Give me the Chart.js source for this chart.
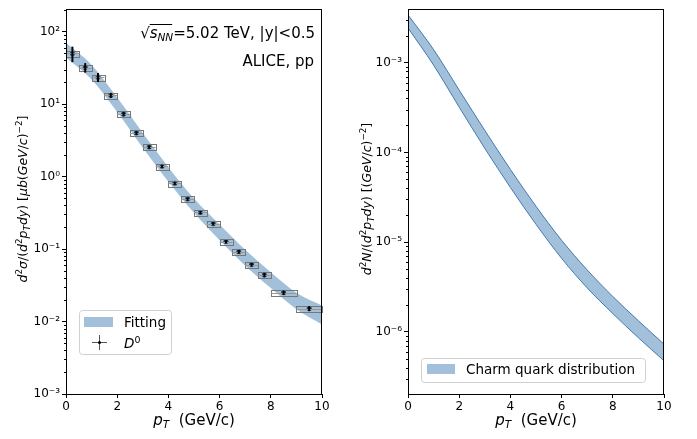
<!DOCTYPE html>
<html lang="en">
<head>
<meta charset="UTF-8">
<title>D0 and charm quark spectra</title>
<script src="https://cdn.jsdelivr.net/npm/chart.js"></script>
<style>
  body { margin: 0; background: #fff; }
  #wrap { position: relative; width: 697px; height: 439px; }
  canvas { position: absolute; top: 0; }
</style>
</head>
<body>
<div id="wrap">
  <canvas id="leftChart" width="340" height="439" style="left:0"></canvas>
  <canvas id="rightChart" width="357" height="439" style="left:340px"></canvas>
</div>
<script>
const bandPt = [0, 1, 2, 3, 4, 5, 6, 7, 8, 9, 10];

// left panel: fit band
const fitUpper = [70, 34.7, 12.3, 4.0, 1.35, 0.50, 0.219, 0.098, 0.048, 0.025, 0.0166];
const fitLower = [44, 21.9, 7.8, 2.5, 0.85, 0.316, 0.132, 0.059, 0.029, 0.0148, 0.0091];

// left panel: ALICE D0 points
const d0Pt = [0.25, 0.75, 1.25, 1.75, 2.25, 2.75, 3.25, 3.75, 4.25, 4.75, 5.25, 5.75, 6.25, 6.75, 7.25, 7.75, 8.5, 9.5];
const d0Val = [50, 32, 23.5, 13.2, 7.3, 4.0, 2.55, 1.39, 0.81, 0.49, 0.32, 0.224, 0.127, 0.092, 0.061, 0.044, 0.025, 0.0151];
const d0BinHalf = [0.25, 0.25, 0.25, 0.25, 0.25, 0.25, 0.25, 0.25, 0.25, 0.25, 0.25, 0.25, 0.25, 0.25, 0.25, 0.25, 0.5, 0.5];
const d0Stat = [0.24, 0.15, 0.14, 0.08, 0.07, 0.06, 0.05, 0.05, 0.05, 0.05, 0.05, 0.05, 0.05, 0.06, 0.06, 0.07, 0.07, 0.08];
const d0Sys = [0.09, 0.09, 0.09, 0.09, 0.09, 0.09, 0.09, 0.09, 0.09, 0.09, 0.09, 0.09, 0.09, 0.09, 0.09, 0.09, 0.09, 0.09];

// right panel: charm quark band
const charmUpper = [3.41e-3, 1.40e-3, 4.95e-4, 1.76e-4, 6.46e-5, 2.51e-5, 1.05e-5, 4.9e-6, 2.48e-6, 1.33e-6, 7.3e-7];
const charmLower = [2.44e-3, 9.4e-4, 3.20e-4, 1.11e-4, 4.07e-5, 1.58e-5, 6.6e-6, 3.09e-6, 1.60e-6, 8.6e-7, 4.76e-7];

const FONT = '"DejaVu Sans"';
const bandFill = 'rgba(70,130,180,0.5)';
const bandEdge = '#4079b2';

const SUP = { '-': '\u207B', '0': '\u2070', '1': '\u00B9', '2': '\u00B2', '3': '\u00B3',
  '4': '\u2074', '5': '\u2075', '6': '\u2076', '7': '\u2077', '8': '\u2078', '9': '\u2079' };
const supStr = s => String(s).split('').map(c => SUP[c] || c).join('');

const pts = (xs, ys) => xs.map((x, i) => ({ x: x, y: ys[i] }));

// draw mixed italic / sub / sup text, returns segment positions
function richText(ctx, parts, x, y, size, align) {
  const segs = parts.map(([t, f = '']) => {
    const small = f.includes('sub') || f.includes('sup');
    const fs = small ? size * 0.7 : size;
    const font = (f.includes('i') ? 'italic ' : '') + fs + 'px ' + FONT;
    ctx.font = font;
    const dy = f.includes('sub') ? size * 0.22 : f.includes('sup') ? -size * 0.4 : 0;
    return { t, font, dy, w: ctx.measureText(t).width };
  });
  const total = segs.reduce((a, s) => a + s.w, 0);
  let cx = align === 'center' ? x - total / 2 : align === 'right' ? x - total : x;
  ctx.textBaseline = 'alphabetic';
  ctx.textAlign = 'left';
  segs.forEach(s => {
    s.x = cx;
    ctx.font = s.font;
    ctx.fillText(s.t, cx, y + s.dy);
    cx += s.w;
  });
  return segs;
}

function decadeTicks(scale) {
  const lo = Math.ceil(Math.log10(scale.min) - 1e-9);
  const hi = Math.floor(Math.log10(scale.max) + 1e-9);
  const t = [];
  for (let e = lo; e <= hi; e++) t.push({ value: Math.pow(10, e), major: true });
  scale.ticks = t;
}

function axisOpts(yMin, yMax, yWidth) {
  return {
    x: {
      type: 'linear', min: 0, max: 10,
      ticks: { stepSize: 2, color: '#000', font: { family: FONT, size: 12 }, padding: 2, maxRotation: 0 },
      grid: { display: true, drawOnChartArea: false, tickLength: 4, color: '#000' },
      border: { color: '#000' },
      afterFit: s => { s.height = 45; }
    },
    y: {
      type: 'logarithmic', min: yMin, max: yMax,
      afterBuildTicks: decadeTicks,
      ticks: {
        autoSkip: false, color: '#000', font: { family: FONT, size: 12 }, padding: 2,
        callback: v => '10' + supStr(Math.round(Math.log10(v)))
      },
      grid: { display: true, drawOnChartArea: false, tickLength: 4, color: '#000' },
      border: { color: '#000' },
      afterFit: s => { s.width = yWidth; }
    }
  };
}

// frame + minor log ticks
const framePlugin = {
  id: 'frame',
  afterDraw(chart) {
    const { ctx, chartArea: a } = chart;
    const ys = chart.scales.y;
    ctx.save();
    ctx.strokeStyle = '#000';
    ctx.lineWidth = 1;
    ctx.beginPath();
    const lo = Math.floor(Math.log10(ys.min));
    const hi = Math.ceil(Math.log10(ys.max));
    for (let e = lo; e <= hi; e++) {
      for (let m = 2; m <= 9; m++) {
        const v = m * Math.pow(10, e);
        if (v < ys.min || v > ys.max) continue;
        const py = Math.round(ys.getPixelForValue(v)) + 0.5;
        ctx.moveTo(a.left, py);
        ctx.lineTo(a.left - 2, py);
      }
    }
    ctx.stroke();
    ctx.strokeRect(Math.round(a.left) + 0.5, Math.round(a.top) + 0.5,
      Math.round(a.right - a.left) - 1, Math.round(a.bottom - a.top));
    ctx.restore();
  }
};

function xTitle(chart) {
  const { ctx, chartArea: a } = chart;
  ctx.fillStyle = '#000';
  richText(ctx, [['p', 'i'], ['T', 'i sub'], ['  (GeV/c)']], (a.left + a.right) / 2, 425, 15, 'center');
}

function yTitle(chart, x, parts) {
  const { ctx } = chart;
  ctx.save();
  ctx.fillStyle = '#000';
  ctx.translate(x, 199);
  ctx.rotate(-Math.PI / 2);
  richText(ctx, parts, 0, 0, 12.5, 'center');
  ctx.restore();
}

function legendBox(ctx, x, y, w, h) {
  ctx.save();
  ctx.fillStyle = 'rgba(255,255,255,0.8)';
  ctx.strokeStyle = '#d0d0d0';
  ctx.lineWidth = 1;
  ctx.beginPath();
  ctx.roundRect(x + 0.5, y + 0.5, w, h, 3);
  ctx.fill();
  ctx.stroke();
  ctx.restore();
}

// ---------- left panel ----------
const leftDeco = {
  id: 'leftDeco',
  afterDatasetsDraw(chart) {
    const { ctx } = chart;
    const xs = chart.scales.x, ys = chart.scales.y;
    ctx.save();
    d0Pt.forEach((pt, i) => {
      const v = d0Val[i];
      const x0 = xs.getPixelForValue(pt - d0BinHalf[i]);
      const x1 = xs.getPixelForValue(pt + d0BinHalf[i]);
      const yt = ys.getPixelForValue(v * (1 + d0Sys[i]));
      const yb = ys.getPixelForValue(v * (1 - d0Sys[i]));
      const yc = ys.getPixelForValue(v);
      const xc = xs.getPixelForValue(pt);
      ctx.strokeStyle = '#777';
      ctx.lineWidth = 1;
      ctx.strokeRect(Math.round(x0) + 0.5, Math.round(yt) + 0.5, Math.round(x1 - x0), Math.round(yb - yt));
      ctx.strokeStyle = '#999';
      ctx.beginPath();
      ctx.moveTo(x0, Math.round(yc) + 0.5);
      ctx.lineTo(x1, Math.round(yc) + 0.5);
      ctx.stroke();
      ctx.strokeStyle = '#000';
      ctx.lineWidth = 2;
      ctx.beginPath();
      ctx.moveTo(xc, ys.getPixelForValue(v * (1 + d0Stat[i])));
      ctx.lineTo(xc, ys.getPixelForValue(v * (1 - d0Stat[i])));
      ctx.stroke();
    });
    ctx.restore();
  },
  afterDraw(chart) {
    const { ctx } = chart;
    ctx.save();
    ctx.fillStyle = '#000';
    // energy / system label
    const segs = richText(ctx, [['\u221A'], ['s', 'i'], ['NN', 'i sub'], ['=5.02 TeV, |y|<0.5']], 315, 38, 15, 'right');
    ctx.strokeStyle = '#000';
    ctx.lineWidth = 1;
    ctx.beginPath();
    ctx.moveTo(segs[1].x, 24.5);
    ctx.lineTo(segs[3].x - 1, 24.5);
    ctx.stroke();
    ctx.font = '15px ' + FONT;
    ctx.textAlign = 'right';
    ctx.fillText('ALICE, pp', 314, 66);
    // legend
    legendBox(ctx, 79, 310, 92, 44);
    ctx.fillStyle = bandFill;
    ctx.fillRect(84, 317, 29, 10);
    ctx.strokeStyle = '#555';
    ctx.lineWidth = 1;
    ctx.beginPath();
    ctx.moveTo(92, 342.5); ctx.lineTo(107, 342.5);
    ctx.moveTo(99.5, 335); ctx.lineTo(99.5, 350);
    ctx.stroke();
    ctx.fillStyle = '#000';
    ctx.beginPath(); ctx.arc(99.5, 342.5, 1.5, 0, Math.PI * 2); ctx.fill();
    richText(ctx, [['Fitting']], 124, 327, 13.5, 'left');
    richText(ctx, [['D', 'i'], ['0', 'sup']], 124, 348, 13.5, 'left');
    xTitle(chart);
    yTitle(chart, 27, [['d', 'i'], ['2', 'sup'], ['\u03C3', 'i'], ['/('], ['d', 'i'], ['2', 'sup'], ['p', 'i'], ['T', 'i sub'],
      ['dy', 'i'], [') ['], ['\u03BCb', 'i'], ['('], ['GeV', 'i'], ['/'], ['c', 'i'], [')'], ['\u22122', 'sup'], [']']]);
    ctx.restore();
  }
};

new Chart(document.getElementById('leftChart'), {
  type: 'line',
  data: {
    datasets: [
      { label: 'Fitting', data: pts(bandPt, fitUpper), fill: '+1', backgroundColor: bandFill,
        borderWidth: 0, pointRadius: 0, cubicInterpolationMode: 'monotone' },
      { label: 'lower', data: pts(bandPt, fitLower), fill: false, borderWidth: 0, pointRadius: 0,
        cubicInterpolationMode: 'monotone' },
      { label: 'D0', data: pts(d0Pt, d0Val), showLine: false, pointRadius: 2.5, pointBorderWidth: 0,
        pointBackgroundColor: '#000' }
    ]
  },
  options: {
    responsive: false, animation: false, devicePixelRatio: 1,
    layout: { padding: { top: 4, right: 18, left: 0, bottom: 0 } },
    plugins: { legend: { display: false }, tooltip: { enabled: false } },
    scales: axisOpts(1e-3, 204, 66)
  },
  plugins: [leftDeco, framePlugin]
});

// ---------- right panel ----------
const rightDeco = {
  id: 'rightDeco',
  afterDraw(chart) {
    const { ctx } = chart;
    ctx.save();
    legendBox(ctx, 81, 358, 224, 24);
    ctx.fillStyle = bandFill;
    ctx.fillRect(87, 364, 28, 10);
    ctx.fillStyle = '#000';
    richText(ctx, [['Charm quark distribution']], 126, 374, 13.5, 'left');
    xTitle(chart);
    yTitle(chart, 31, [['d', 'i'], ['2', 'sup'], ['N', 'i'], ['/('], ['d', 'i'], ['2', 'sup'], ['p', 'i'], ['T', 'i sub'],
      ['dy', 'i'], [') [('], ['GeV', 'i'], ['/'], ['c', 'i'], [')'], ['\u22122', 'sup'], [']']]);
    ctx.restore();
  }
};

new Chart(document.getElementById('rightChart'), {
  type: 'line',
  data: {
    datasets: [
      { label: 'Charm quark distribution', data: pts(bandPt, charmUpper), fill: '+1', backgroundColor: bandFill,
        borderColor: bandEdge, borderWidth: 1, pointRadius: 0, cubicInterpolationMode: 'monotone' },
      { label: 'lower', data: pts(bandPt, charmLower), fill: false, borderColor: bandEdge, borderWidth: 1,
        pointRadius: 0, cubicInterpolationMode: 'monotone' }
    ]
  },
  options: {
    responsive: false, animation: false, devicePixelRatio: 1,
    layout: { padding: { top: 4, right: 33, left: 0, bottom: 0 } },
    plugins: { legend: { display: false }, tooltip: { enabled: false } },
    scales: axisOpts(2.03e-7, 3.95e-3, 68)
  },
  plugins: [rightDeco, framePlugin]
});
</script>
</body>
</html>
